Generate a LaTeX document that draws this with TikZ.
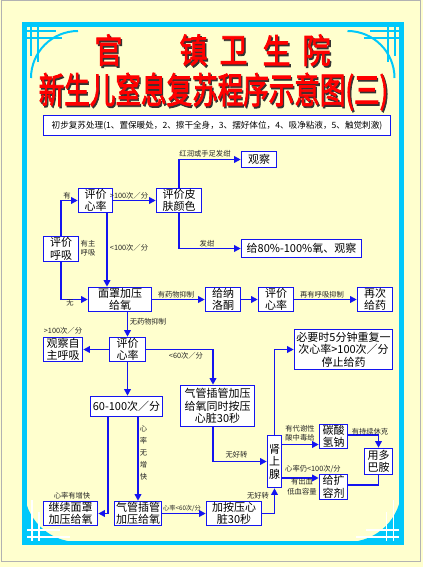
\documentclass[tikz,border=0pt]{standalone}
\usepackage{fontspec}
\newfontfamily\cjk{Noto Sans CJK SC}
\newfontfamily\cjkb[FakeBold=2.5]{Noto Sans CJK SC}
\usetikzlibrary{arrows.meta,calc}
\definecolor{bg}{RGB}{255,255,206}
\definecolor{cy}{RGB}{0,200,250}
\definecolor{bl}{RGB}{20,20,240}
\definecolor{tr}{RGB}{255,0,0}
\tikzset{
  box/.style={draw=bl, line width=1.6pt, fill=white, inner sep=0pt, align=center,
    font=\cjk\fontsize{11}{12.5}\selectfont, text=black},
  lab/.style={font=\cjk\fontsize{7.3}{9.5}\selectfont, text=black!85, inner sep=0pt, align=center},
  arr/.style={draw=bl, line width=1.8pt, -{Triangle[length=6.5pt,width=6.5pt]}},
  conn/.style={draw=bl, line width=1.8pt},
  orn/.style={draw=cy, line width=2pt},
  tch/.style={font=\cjkb\fontsize{34}{34}\selectfont, inner sep=0pt, text=tr}
}
\newcommand{\shad}[1]{\makebox[0pt][l]{\hspace{1.8pt}\raisebox{-1.8pt}{\color{black!80}#1}}#1}
\newcommand{\ttl}[3]{%
  \node[tch] (t#3) at (#1,#2) {\scalebox{0.82}[1]{\shad{#3}}};}
\begin{document}
\begin{tikzpicture}[x=1pt,y=-1pt]
\useasboundingbox (0,0) rectangle (423,567);
\fill[bg] (0,0) rectangle (423,567);
\draw[gray!60, line width=1pt] (1.5,1) rectangle (420,561);
% cyan frame
\draw[cy, line width=4.5pt] (24.5,24.5) rectangle (401.5,543);
% top-left ornament
\draw[orn] (31,24) -- (31,56) (38,24) -- (38,62) (24,31) -- (56,31) (24,38) -- (62,38);
\draw[orn] (31,78) arc[start angle=180, end angle=270, radius=47];
% top-right ornament
\draw[orn] (394.5,24) -- (394.5,56) (387.5,24) -- (387.5,62) (401,31) -- (370,31) (401,38) -- (364,38);
\draw[orn] (394.5,78) arc[start angle=0, end angle=-90, radius=47];
% bottom-left ornament
\fill[cy] (24,488) arc[start angle=180, end angle=90, radius=54] -- (24,542) -- cycle;
\draw[white, line width=1.6pt] (32,500) -- (32,543) (39,512) -- (39,543) (24,530) -- (60,530) (24,537) -- (70,537);
% bottom-right ornament
\fill[cy] (401.5,488) arc[start angle=0, end angle=90, radius=54] -- (401.5,542) -- cycle;
\draw[white, line width=1.6pt] (393.5,500) -- (393.5,543) (386.5,512) -- (386.5,543) (401.5,530) -- (366,530) (401.5,537) -- (356,537);
\draw[cy, line width=4.5pt] (24.5,24.5) rectangle (401.5,543);
% titles
\ttl{108.5}{51}{官}
\ttl{193.5}{51}{镇}
\ttl{233.5}{51}{卫}
\ttl{276.5}{51}{生}
\ttl{316.5}{51}{院}
\node[font=\cjkb\fontsize{36}{36}\selectfont, text=tr, inner sep=0pt] (t2) at (213.5,92.5) {\scalebox{0.71}[1]{\shad{新生儿窒息复苏程序示意图(三)}}};
\node[draw=bl, line width=1.3pt, fill=white, minimum width=347pt, minimum height=20pt, inner sep=0pt,
  font=\cjk\fontsize{8.6}{10}\selectfont] (sub) at (217,125.5) {初步复苏处理(1、置保暖处，2、擦干全身，3、摆好体位，4、吸净粘液，5、触觉刺激)};
% nodes
\node[box, minimum width=34pt, minimum height=24pt] (xl1) at (95.5,200.5) {评价\\心率};
\node[box, minimum width=45pt, minimum height=24pt] (pf) at (179,200.5) {评价皮\\肤颜色};
\node[box, minimum width=35pt, minimum height=25pt] (hx) at (61,249) {评价\\呼吸};
\node[box, minimum width=35pt, minimum height=16pt] (gc) at (259,159.5) {观察};
\node[box, minimum width=120pt, minimum height=18pt] (gy) at (301.5,248.5) {给80\%-100\%氧、观察};
\node[box, minimum width=63pt, minimum height=24pt] (mz) at (120,299.5) {面罩加压\\给氧};
\node[box, minimum width=35pt, minimum height=24pt] (nl) at (223,299.5) {给纳\\洛酮};
\node[box, minimum width=35pt, minimum height=24pt] (xl2) at (276,299.5) {评价\\心率};
\node[box, minimum width=35pt, minimum height=24pt] (zc) at (375,299.5) {再次\\给药};
\node[box, minimum width=36pt, minimum height=24pt] (xl3) at (127.5,349.5) {评价\\心率};
\node[box, minimum width=39pt, minimum height=24pt] (zz) at (63,349.5) {观察自\\主呼吸};
\node[box, minimum width=74pt, minimum height=41pt] (qa) at (217.5,406) {气管插管加压\\给氧同时按压\\心脏30秒};
\node[box, minimum width=72pt, minimum height=20pt] (r60) at (126.5,406.5) {60-100次／分};
\node[box, minimum width=98pt, minimum height=40pt] (bx) at (343.5,349.5) {必要时5分钟重复一\\次心率>100次／分\\停止给药};
\node[box, minimum width=54pt, minimum height=24pt] (jx) at (70.5,513.5) {继续面罩\\加压给氧};
\node[box, minimum width=47pt, minimum height=24pt] (qb) at (138,513.5) {气管插管\\加压给氧};
\node[box, minimum width=55pt, minimum height=24pt] (ja) at (234,513.5) {加按压心\\脏30秒};
\node[box, minimum width=14pt, minimum height=52pt] (sx) at (274.5,461.5) {肾\\上\\腺};
\node[box, minimum width=28pt, minimum height=24pt] (ts) at (333.5,436.5) {碳酸\\氢钠};
\node[box, minimum width=28pt, minimum height=25pt] (kr) at (333.5,487) {给扩\\容剂};
\node[box, minimum width=28pt, minimum height=26pt] (db) at (378.5,461.5) {用多\\巴胺};
% connectors
\draw[arr] (hx.north) |- (xl1.west);
\draw[arr] (xl1.east) -- (pf.west);
\draw[arr] (pf.north) |- (gc.west);
\draw[arr] (pf.south) |- (gy.west);
\draw[arr] ([xshift=11.5pt]xl1.south) -- ([xshift=11.5pt]xl1.south |- mz.north);
\draw[arr] (hx.south) |- (mz.west);
\draw[arr] (mz.east) -- (nl.west);
\draw[arr] (nl.east) -- (xl2.west);
\draw[arr] (xl2.east) -- (zc.west);
\draw[arr] (xl3.north |- mz.south) -- (xl3.north);
\draw[arr] (xl3.west) -- (zz.east);
\draw[arr] (xl3.east) -| ([xshift=-4.5pt]qa.north);
\draw[arr] (xl3.south) -- (xl3.south |- r60.north);
\draw[arr] ([xshift=-18.5pt]r60.south) |- (jx.east);
\draw[arr] (r60.south -| qb.north) -- (qb.north);
\draw[arr] (qb.east) -- (ja.west);
\draw[arr] (ja.east) -| (sx.south);
\draw[arr] ([xshift=-4.5pt]qa.south) |- (sx.west);
\draw[arr] (sx.north) |- (bx.west);
\draw[arr] ($(sx.east |- ts.west)+(0,8)$) -- ($(ts.west)+(0,8)$);
\draw[arr] ($(sx.east |- kr.west)+(0,-9)$) -- ($(kr.west)+(0,-9)$);
\draw[arr] ($(ts.east)+(0,-1.5)$) -| (db.north);
\draw[conn] ($(kr.east)+(0,-2)$) -| (db.south);
% labels
\node[lab] (l1) at (67,196) {有};
\node[lab] (l2) at (129,196) {>100次／分};
\node[lab] (l3) at (129,248) {<100次／分};
\node[lab] (l4) at (88,248) {有主\\呼吸};
\node[lab] (l5) at (70,303) {无};
\node[lab] (l6) at (205,154) {红润或手足发绀};
\node[lab] (l7) at (207,244) {发绀};
\node[lab] (l8) at (176,294.5) {有药物抑制};
\node[lab] (l9) at (322,294.5) {再有呼吸抑制};
\node[lab] (l10) at (148,322) {无药物抑制};
\node[lab] (l11) at (63,331) {>100次／分};
\node[lab] (l12) at (186,356) {<60次／分};
\node[lab, font=\cjk\fontsize{7.3}{12}\selectfont] (l13) at (143.5,453) {心\\率\\无\\增\\快};
\node[lab] (l14) at (72,496) {心率有增快};
\node[lab, font=\cjk\fontsize{6.2}{8}\selectfont] (l15) at (182,508.5) {心率<60次/分};
\node[lab] (l16) at (236.5,455) {无好转};
\node[lab] (l17) at (258,496) {无好转};
\node[lab] (l18) at (300,433) {有代谢性\\酸中毒给};
\node[lab] (l19) at (370,432) {有持续休克};
\node[lab] (l20) at (313,469) {心率仍<100次/分};
\node[lab] (l21) at (302,486.5) {有出血\\低血容量};
\end{tikzpicture}
\end{document}
